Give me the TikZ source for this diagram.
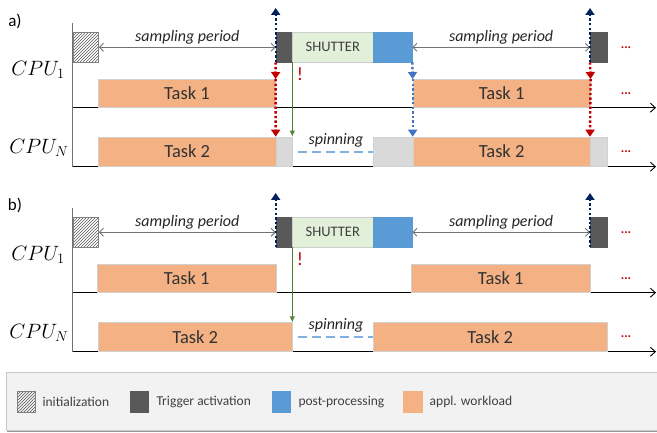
\documentclass[tikz,border=0pt]{standalone}
\usepackage{fontspec}
\setmainfont{Carlito}
\usepackage{tikz}
\usetikzlibrary{arrows.meta,patterns,positioning,calc}
\definecolor{taskc}{HTML}{F4B183}
\definecolor{trigc}{HTML}{595959}
\definecolor{postc}{HTML}{5B9BD5}
\definecolor{shutc}{HTML}{E2F0D9}
\definecolor{idlec}{HTML}{D9D9D9}
\definecolor{navyc}{HTML}{002060}
\definecolor{redc}{HTML}{C00000}
\definecolor{bluec}{HTML}{4472C4}
\definecolor{greenc}{HTML}{548235}
\definecolor{spinc}{HTML}{7FB0E0}

\begin{document}
\begin{tikzpicture}[x=1pt,y=-1pt,
    box/.style={draw=black!18, line width=0.6pt, inner sep=0pt, anchor=north west},
    wh/.style 2 args={minimum width=#1pt, minimum height=#2pt},
    task/.style={box, fill=taskc, text=black!80, font=\fontsize{18.5}{20}\selectfont},
    idle/.style={box, fill=idlec},
    trig/.style={box, fill=trigc, draw=trigc},
    post/.style={box, fill=postc, draw=postc},
    shut/.style={box, fill=shutc, draw=black!20, text=black!75, font=\fontsize{14.5}{16}\selectfont},
    init/.style={box, draw=black!50, pattern=north east lines, pattern color=black!65},
    period/.style={draw=black!55, line width=0.9pt, {Straight Barb[length=4pt,width=8pt]}-{Straight Barb[length=4pt,width=8pt]}},
    plabel/.style={font=\itshape\fontsize{16}{18}\selectfont, text=black!85, inner sep=1pt},
    fire/.style={line width=2.4pt, dash pattern=on 2.4pt off 2.2pt, -{Triangle[length=7pt,width=9pt]}},
    trigline/.style={greenc, line width=1pt, -{Latex[length=6pt,width=5.5pt]}},
    axis/.style={line width=0.9pt, -{Straight Barb[length=5pt,width=9pt]}},
    vaxis/.style={black!55, line width=1pt},
    spin/.style={spinc, line width=1.5pt, dash pattern=on 9pt off 5pt},
    cpu/.style={font=\fontsize{19.5}{21}\selectfont},
    warn/.style={redc, font=\fontsize{19}{20}\selectfont},
    more/.style={redc, font=\bfseries\fontsize{13}{14}\selectfont},
    legend/.style={text=black!75, inner sep=0pt, font=\fontsize{13.5}{15}\selectfont}]
  \useasboundingbox (0,0) rectangle (657,433);
  %
  % a) sampling is shut, all CPUs spin
  \node[font=\fontsize{17}{18}\selectfont] (laba) at (15,21) {a)};
  \node[cpu] (cpu1a) at (38,70) {$CPU_1$};
  \node[cpu] (cpuna) at (39,148) {$CPU_N$};
  \draw[vaxis] (72.7,23) -- (72.7,167);
  \draw[axis] (72.7,107.7) -- (656,107.7);
  \draw[axis] (72.7,166.7) -- (656,166.7);
  \node[init,wh={25.6}{29.4}] (inita) at (72.7,32.3) {};
  \node[trig,wh={16}{29.4}] (trg1a) at (275.7,32.3) {};
  \node[shut,wh={81.6}{29.4}] (shuta) at (291.7,32.3) {SHUTTER};
  \node[post,wh={38.4}{29.4}] (posta) at (373.3,32.3) {};
  \node[trig,wh={16.7}{29.4}] (trg2a) at (590,32.3) {};
  \node[task,wh={176.7}{27.7}] (t1a) at (98.3,79) {Task 1};
  \node[task,wh={177.3}{27.7}] (t1ra) at (412.7,79) {Task 1};
  \node[task,wh={177.4}{29}] (t2a) at (98.3,136.7) {Task 2};
  \node[idle,wh={16}{29}] (sp1a) at (275.7,136.7) {};
  \node[idle,wh={39.4}{29}] (sp2a) at (373.3,136.7) {};
  \node[task,wh={177.3}{29}] (t2ra) at (412.7,136.7) {Task 2};
  \node[idle,wh={16.7}{29}] (sp3a) at (590,136.7) {};
  \draw[period] (inita.east) -- (trg1a.west) node[plabel,midway,above=2pt] {sampling period};
  \draw[period] (posta.east) -- (trg2a.west) node[plabel,midway,above=2pt] {sampling period};
  \node[plabel] (spina) at (336,140) {spinning};
  \draw[spin] ($(sp1a.east)+(6,0.5)$) -- ($(sp2a.west)+(0,0.5)$);
  \coordinate (up1a) at (275.7,8);
  \coordinate (up2a) at (590,8);
  \draw[fire,navyc] (trg1a.south west) -- (up1a);
  \draw[fire,navyc] (trg2a.south west) -- (up2a);
  \draw[fire,redc] (trg1a.south west) -- (t1a.north east);
  \draw[fire,redc] (t1a.north east) -- (sp1a.north west);
  \draw[fire,redc] (trg2a.south west) -- (t1ra.north east);
  \draw[fire,redc] (t1ra.north east) -- (sp3a.north west);
  \draw[fire,bluec] (posta.south east) -- (t1ra.north west);
  \draw[fire,bluec] (t1ra.north west) -- (t2ra.north west);
  \draw[trigline] (trg1a.south east) -- (sp1a.north east);
  \node[warn] (wa) at (300,74) {!};
  \node[more] (m1a) at (626,48) {...};
  \node[more] (m2a) at (626,94) {...};
  \node[more] (m3a) at (626,152) {...};
  %
  % b) sampling is shut, work goes on
  \begin{scope}[yshift=-185pt]
    \node[font=\fontsize{17}{18}\selectfont] (labb) at (15,20) {b)};
    \node[cpu] (cpu1b) at (38,70) {$CPU_1$};
    \node[cpu] (cpunb) at (39,148) {$CPU_N$};
    \draw[vaxis] (72.7,23) -- (72.7,167);
    \draw[axis] (72.7,107.7) -- (656,107.7);
    \draw[axis] (72.7,166.7) -- (656,166.7);
    \node[init,wh={25.6}{29.4}] (initb) at (72.7,32.3) {};
    \node[trig,wh={16}{29.4}] (trg1b) at (275.7,32.3) {};
    \node[shut,wh={81.6}{29.4}] (shutb) at (291.7,32.3) {SHUTTER};
    \node[post,wh={38.4}{29.4}] (postb) at (373.3,32.3) {};
    \node[trig,wh={16.7}{29.4}] (trg2b) at (590,32.3) {};
    \node[task,wh={178.4}{27.7}] (t1b) at (97.3,79) {Task 1};
    \node[task,wh={179}{27.7}] (t1rb) at (411,79) {Task 1};
    \node[task,wh={193.4}{28.4}] (t2b) at (98.3,137.3) {Task 2};
    \node[task,wh={233.4}{28.4}] (t2rb) at (373.3,137.3) {Task 2};
    \draw[period] (initb.east) -- (trg1b.west) node[plabel,midway,above=2pt] {sampling period};
    \draw[period] (postb.east) -- (trg2b.west) node[plabel,midway,above=2pt] {sampling period};
    \node[plabel] (spinb) at (336,140) {spinning};
    \draw[spin] ($(t2b.east)+(6,0)$) -- (t2rb.west);
    \coordinate (up1b) at (275.7,8);
    \coordinate (up2b) at (590,8);
    \draw[fire,navyc] (trg1b.south west) -- (up1b);
    \draw[fire,navyc] (trg2b.south west) -- (up2b);
    \draw[trigline] (trg1b.south east) -- (t2b.north east);
    \node[warn] (wb) at (300,74) {!};
    \node[more] (m1b) at (626,48) {...};
    \node[more] (m2b) at (626,94) {...};
    \node[more] (m3b) at (626,152) {...};
  \end{scope}
  %
  % legend
  \draw[black!40, line width=1.5pt] (7,431) -- (680,431);
  \draw[black!22, fill=black!5] (6,372.3) rectangle (680,430);
  \node[init,wh={18.3}{21.6}] (lg1) at (16.7,390.7) {};
  \node[legend, right=6.7pt of lg1] (lt1) {initialization};
  \node[trig,wh={18.3}{21.6}] (lg2) at (130,390.7) {};
  \node[legend, right=7.4pt of lg2] (lt2) {Trigger activation};
  \node[post,wh={18.3}{21.6}] (lg3) at (271.7,390.7) {};
  \node[legend, right=7.7pt of lg3] (lt3) {post-processing};
  \node[box,fill=taskc,draw=taskc,wh={18.3}{21.6}] (lg4) at (403.3,390.7) {};
  \node[legend, right=7.3pt of lg4] (lt4) {appl. workload};
\end{tikzpicture}
\end{document}
